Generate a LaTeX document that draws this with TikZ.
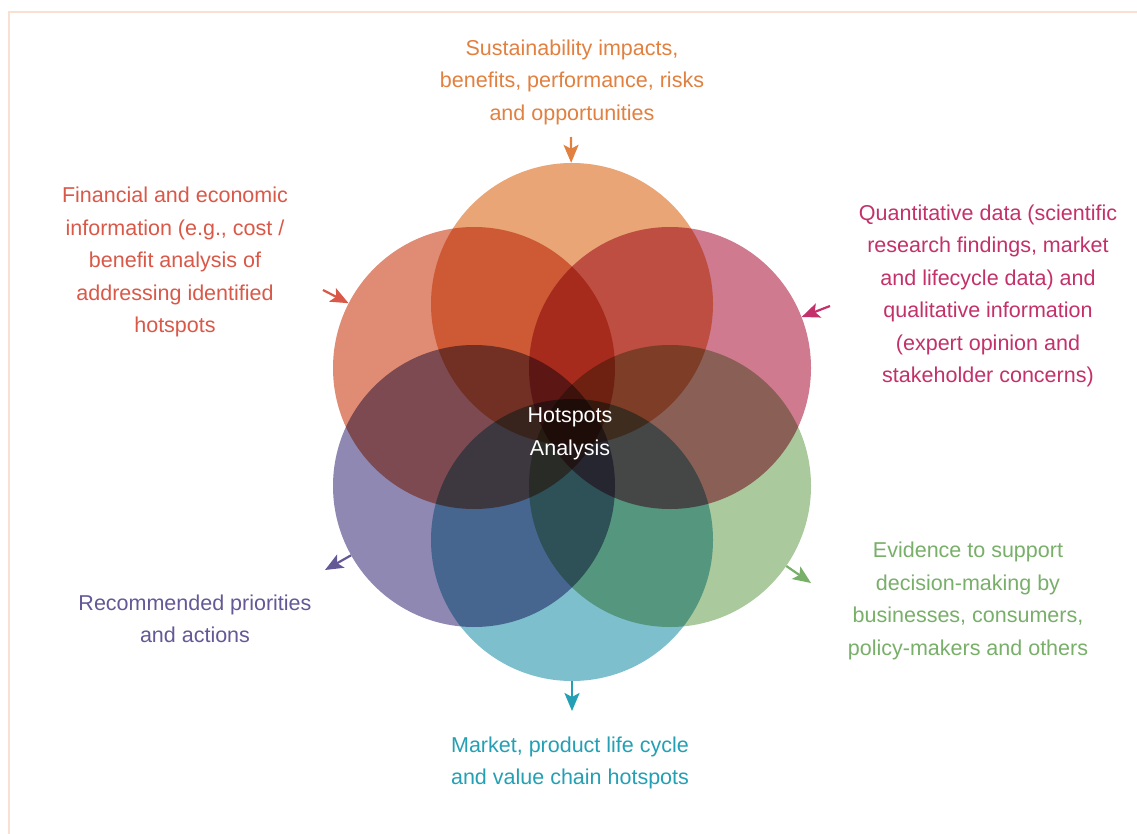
\documentclass[tikz,border=0pt]{standalone}
\usepackage{fontspec}
\setmainfont{Liberation Sans}
\usetikzlibrary{arrows.meta}
\definecolor{frameC}{RGB}{250,224,208}
\definecolor{fOrange}{RGB}{234,165,118}
\definecolor{fRed}{RGB}{224,140,116}
\definecolor{fPink}{RGB}{207,122,142}
\definecolor{fPurple}{RGB}{142,136,178}
\definecolor{fGreen}{RGB}{170,201,156}
\definecolor{fTeal}{RGB}{126,191,206}
\definecolor{tOrange}{RGB}{226,128,64}
\definecolor{tRed}{RGB}{218,88,72}
\definecolor{tPink}{RGB}{196,48,105}
\definecolor{tPurple}{RGB}{100,88,150}
\definecolor{tGreen}{RGB}{120,175,105}
\definecolor{tTeal}{RGB}{35,160,180}
\begin{document}
\begin{tikzpicture}[x=1pt,y=-1pt,
  circ/.style={circle, minimum size=282pt, inner sep=0pt, draw=none},
  arr/.style={-{Stealth[length=18pt,width=15pt,inset=4pt]}, line width=2.2pt},
  lbl/.style={align=center, font=\fontsize{21.5pt}{32.5pt}\selectfont, inner sep=0pt}]
\useasboundingbox (0,0) rectangle (1137,834);
\fill[white] (0,0) rectangle (1137,834);
\draw[frameC, line width=2pt] (9,834) -- (9,12) -- (1137,12);
\begin{scope}[blend mode=multiply]
\node[circ, fill=fOrange] (cT) at (572,304) {};
\node[circ, fill=fRed] (cL) at (474,368) {};
\node[circ, fill=fPink] (cR) at (670,368) {};
\node[circ, fill=fPurple] (cBL) at (474,486) {};
\node[circ, fill=fGreen] (cBR) at (670,486) {};
\node[circ, fill=fTeal] (cB) at (572,540) {};
\end{scope}
\node[lbl, text=white] (hot) at (570,434) {Hotspots\\Analysis};
\node[lbl, text=tOrange] (tT) at (572,82) {Sustainability impacts,\\benefits, performance, risks\\and opportunities};
\node[lbl, text=tRed] (tL) at (175,262) {Financial and economic\\information (e.g., cost /\\benefit analysis of\\addressing identified\\hotspots};
\node[lbl, text=tPink] (tR) at (988,296) {Quantitative data (scientific\\research findings, market\\and lifecycle data) and\\qualitative information\\(expert opinion and\\stakeholder concerns)};
\node[lbl, text=tPurple] (tBL) at (195,619) {Recommended priorities\\and actions};
\node[lbl, text=tGreen] (tBR) at (968,601) {Evidence to support\\decision-making by\\businesses, consumers,\\policy-makers and others};
\node[lbl, text=tTeal] (tB) at (570,763) {Market, product life cycle\\and value chain hotspots};
\coordinate (aT) at (571,137);
\coordinate (aL) at (323,290);
\coordinate (aR) at (830,306);
\coordinate (aBL) at (325,570);
\coordinate (aBR) at (811,583);
\coordinate (aB) at (572,711);
\draw[arr, tOrange] (aT) -- (cT);
\draw[arr, tRed] (aL) -- (cL);
\draw[arr, tPink] (aR) -- (cR);
\draw[arr, tPurple] (cBL) -- (aBL);
\draw[arr, tGreen] (cBR) -- (aBR);
\draw[arr, tTeal] (cB) -- (aB);
\end{tikzpicture}
\end{document}
